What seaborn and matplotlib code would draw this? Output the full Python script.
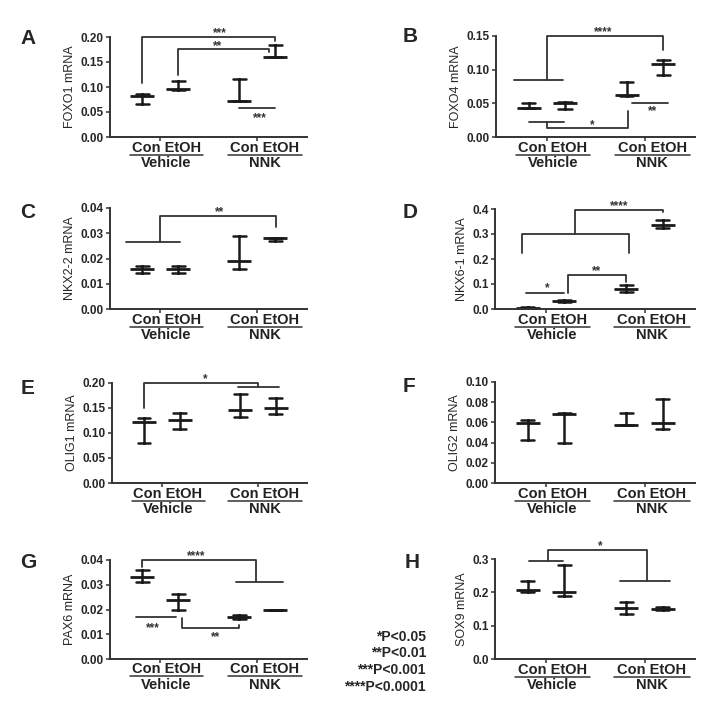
import numpy as np
import pandas as pd
import seaborn as sns
from matplotlib import pyplot as plt
from matplotlib.transforms import blended_transform_factory

genes = ["FOXO1", "FOXO4", "NKX2-2", "NKX6-1", "OLIG1", "OLIG2", "PAX6", "SOX9"]
panel_letters = ["A", "B", "C", "D", "E", "F", "G", "H"]
group_pos = [0, 1, 2.7, 3.7]
treatments = ["Vehicle", "NNK"]

# mean and error bar ends, one row per gene, columns Con/EtOH Vehicle, Con/EtOH NNK
mean_vals = [
    [0.082, 0.097, 0.072, 0.161],
    [0.043, 0.050, 0.062, 0.109],
    [0.016, 0.016, 0.019, 0.028],
    [0.005, 0.033, 0.082, 0.337],
    [0.122, 0.127, 0.146, 0.151],
    [0.059, 0.068, 0.057, 0.059],
    [0.033, 0.024, 0.017, 0.020],
    [0.208, 0.202, 0.153, 0.151],
]
low_vals = [
    [0.067, 0.095, 0.072, 0.160],
    [0.043, 0.041, 0.061, 0.092],
    [0.0142, 0.0142, 0.0159, 0.027],
    [0.003, 0.030, 0.067, 0.324],
    [0.081, 0.109, 0.132, 0.139],
    [0.043, 0.040, 0.057, 0.053],
    [0.031, 0.020, 0.0163, 0.020],
    [0.201, 0.188, 0.136, 0.146],
]
high_vals = [
    [0.087, 0.112, 0.116, 0.185],
    [0.051, 0.052, 0.081, 0.115],
    [0.0171, 0.0171, 0.029, 0.0283],
    [0.007, 0.037, 0.096, 0.358],
    [0.130, 0.140, 0.179, 0.171],
    [0.062, 0.069, 0.0695, 0.083],
    [0.036, 0.0262, 0.0179, 0.020],
    [0.233, 0.283, 0.171, 0.155],
]
y_max = [0.20, 0.15, 0.04, 0.4, 0.20, 0.10, 0.04, 0.3]
y_step = [0.05, 0.05, 0.01, 0.1, 0.05, 0.02, 0.01, 0.1]
y_decimals = [2, 2, 2, 1, 2, 2, 2, 1]
p_legend = ["*P<0.05", "**P<0.01", "***P<0.001", "****P<0.0001"]

# significance brackets: polylines in data coords
brackets = {
    0: [[(0, 0.108), (0, 0.20), (3.7, 0.20), (3.7, 0.192)],
        [(1, 0.125), (1, 0.176), (3.52, 0.176), (3.52, 0.17)],
        [(2.7, 0.058), (3.7, 0.058)]],
    1: [[(0.5, 0.085), (0.5, 0.15), (3.7, 0.15), (3.7, 0.129)],
        [(-0.4, 0.085), (0.95, 0.085)],
        [(0, 0.023), (0.97, 0.023)],
        [(0.5, 0.023), (0.5, 0.0135), (2.73, 0.0135), (2.73, 0.038)],
        [(2.85, 0.051), (3.85, 0.051)]],
    2: [[(-0.45, 0.0267), (1.05, 0.0267)],
        [(0.5, 0.0267), (0.5, 0.0367), (3.72, 0.0367), (3.72, 0.0325)]],
    3: [[(1.3, 0.3), (1.3, 0.398), (3.7, 0.398), (3.7, 0.39)],
        [(-0.15, 0.225), (-0.15, 0.3), (2.78, 0.3), (2.78, 0.225)],
        [(1.1, 0.063), (1.1, 0.136), (2.7, 0.136), (2.7, 0.11)],
        [(-0.05, 0.063), (0.99, 0.063)]],
    4: [[(0, 0.151), (0, 0.201), (3.2, 0.201), (3.2, 0.192)],
        [(2.65, 0.192), (3.8, 0.192)]],
    5: [],
    6: [[(0, 0.037), (0, 0.040), (3.17, 0.040), (3.17, 0.0313)],
        [(2.6, 0.0313), (3.9, 0.0313)],
        [(-0.17, 0.0169), (0.94, 0.0169)],
        [(1.11, 0.0165), (1.11, 0.0125), (2.68, 0.0125), (2.68, 0.0138)]],
    7: [[(0.55, 0.293), (0.55, 0.326), (3.26, 0.326), (3.26, 0.235)],
        [(0.02, 0.293), (0.97, 0.293)],
        [(2.52, 0.235), (3.9, 0.235)]],
}
# star labels: text, x, line y, pixel shift of the star centre from that line (+ is up)
stars = {
    0: [("***", 2.15, 0.20, 5.5), ("**", 2.1, 0.176, 4.5), ("***", 3.26, 0.058, -8.5)],
    1: [("****", 2.04, 0.15, 5.5), ("*", 1.76, 0.0135, 4), ("**", 3.4, 0.051, -7)],
    2: [("**", 2.15, 0.0367, 5.5)],
    3: [("****", 2.5, 0.398, 5.5), ("**", 1.87, 0.136, 5.5), ("*", 0.53, 0.063, 6.5)],
    4: [("*", 1.72, 0.201, 5.5)],
    5: [],
    6: [("****", 1.5, 0.040, 5.5), ("***", 0.3, 0.0169, -9), ("**", 2.03, 0.0125, -7)],
    7: [("*", 1.98, 0.326, 5.5)],
}

sns.set_style("ticks")
plt.rcParams['font.family'] = ['Liberation Sans', 'DejaVu Sans']

W, H = 704, 713
fig = plt.figure(figsize=(W / 100, H / 100), dpi=100)

# axes boxes in pixels: left, top, right, bottom
boxes = [
    (110, 37, 307, 137), (496, 36, 695, 137),
    (110, 208, 307, 309), (495, 209, 695, 309),
    (112, 383, 307, 483), (495, 382, 695, 483),
    (110, 560, 307, 659), (495, 559, 695, 659),
]
letter_xy = [(28, 38), (410, 37), (28, 213), (410, 213), (28, 388), (409, 387), (28, 562), (412, 562)]
STAR_FS = 8.5


def draw_panel(ax, i):
    rows = []
    for pos, lo, m, hi in zip(group_pos, low_vals[i], mean_vals[i], high_vals[i]):
        for v in (lo, m, hi):
            rows.append({"pos": pos, "value": v})
    df = pd.DataFrame(rows)
    sns.pointplot(data=df, x="pos", y="value", native_scale=True, estimator="median",
                  errorbar=("pi", 100), capsize=0.36, color="#1a1a1a", linestyle="none",
                  marker="_", markersize=17, markeredgewidth=2.0,
                  err_kws={"linewidth": 1.8}, ax=ax)

    ax.set_xlim(-0.9, 4.58)
    ax.set_ylim(0, y_max[i])
    ticks = np.round(np.arange(0, y_max[i] + y_step[i] / 2, y_step[i]), 3)
    ax.set_yticks(ticks)
    ax.set_yticklabels([f"{t:.{y_decimals[i]}f}" for t in ticks], fontsize=8.5, fontweight="bold")
    ax.set_xticks([0.5, 3.2])
    ax.set_xticklabels([])
    ax.set_xlabel("")
    ax.set_ylabel(f"{genes[i]} mRNA", fontsize=9, labelpad=3)
    ax.tick_params(length=3, width=1.1, pad=1.5, color="#333333")
    for side in ["left", "bottom"]:
        ax.spines[side].set_linewidth(1.4)
        ax.spines[side].set_color("#333333")
    sns.despine(ax=ax)

    for line in brackets[i]:
        xs, ys = zip(*line)
        ax.plot(xs, ys, color="#333333", lw=1.3, clip_on=False)
    for txt, x, y, shift in stars[i]:
        # the asterisk glyph sits about 0.4 em above the baseline
        dy = shift / 1.389 - 0.4 * STAR_FS
        ax.annotate(txt, (x, y), xytext=(0, dy), textcoords="offset points",
                    ha="center", va="baseline", fontsize=STAR_FS, fontweight="bold",
                    color="#333333", annotation_clip=False)

    trans = blended_transform_factory(ax.transData, ax.transAxes)
    for cx, (x0, x1), name in zip([0.67, 3.4], [(-0.35, 1.7), (2.37, 4.45)], treatments):
        ax.text(cx, -0.105, "Con EtOH", transform=trans, ha="center", va="center",
                fontsize=10.5, fontweight="bold", color="#222222")
        ax.plot([x0, x1], [-0.175, -0.175], transform=trans, color="#333333", lw=1.1, clip_on=False)
        ax.text(cx, -0.26, name, transform=trans, ha="center", va="center",
                fontsize=10.5, fontweight="bold", color="#222222")


for i, (l, t, r, b) in enumerate(boxes):
    ax = fig.add_axes([l / W, 1 - b / H, (r - l) / W, (b - t) / H])
    draw_panel(ax, i)
    lx, ly = letter_xy[i]
    fig.text(lx / W, 1 - ly / H, panel_letters[i], ha="center", va="center",
             fontsize=15, fontweight="bold")

legend_y = [637, 653, 670, 687]
for txt, y in zip(p_legend, legend_y):
    fig.text(426 / W, 1 - y / H, txt, ha="right", va="center", fontsize=10, fontweight="bold")

fig.savefig("out.png", dpi=100)
